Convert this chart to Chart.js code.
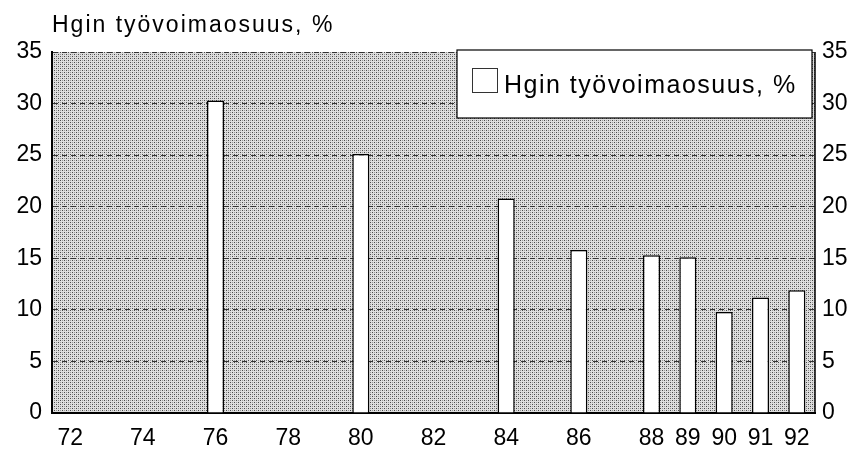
<!DOCTYPE html>
<html>
<head>
<meta charset="utf-8">
<script src="https://cdn.jsdelivr.net/npm/chart.js@4"></script>
<style>
  html, body { margin: 0; padding: 0; background: #fff; }
  #wrap { width: 856px; height: 453px; }
</style>
</head>
<body>
<div id="wrap"><canvas id="osuusChart" width="856" height="453"></canvas></div>
<script>
// Data
const vuodet = ['72','73','74','75','76','77','78','79','80','81','82','83','84','85','86','87','88','89','90','91','92'];
const osuus = [null, null, null, null, 30.3, null, null, null, 25.1, null, null, null, 20.8, null, 15.8, null, 15.3, 15.1, 9.8, 11.2, 11.9];
const naytettavat = ['72','74','76','78','80','82','84','86','88','89','90','91','92'];
const otsikko = 'Hgin työvoimaosuus, %';
const sarjanNimi = 'Hgin työvoimaosuus, %';

const fontti = '"Liberation Sans", Arial, Helvetica, sans-serif';

// Rasteri taustalle
function teeKuvio() {
    const c = document.createElement('canvas');
    c.width = 4; c.height = 4;
    const g = c.getContext('2d');
    g.fillStyle = '#dedede';
    g.fillRect(0, 0, 4, 4);
    g.fillStyle = '#4a4a4a';
    g.fillRect(0, 0, 1, 1);
    g.fillRect(2, 2, 1, 1);
    g.fillStyle = '#999';
    g.fillRect(2, 0, 1, 1);
    g.fillRect(0, 2, 1, 1);
    return c;
}

const taustaPlugin = {
    id: 'tausta',
    beforeDraw(chart) {
        const { ctx, chartArea: a } = chart;
        ctx.save();
        ctx.fillStyle = ctx.createPattern(teeKuvio(), 'repeat');
        ctx.fillRect(a.left, a.top, a.right - a.left, a.bottom - a.top);
        ctx.restore();
    },
    afterDraw(chart) {
        const { ctx, chartArea: a } = chart;
        ctx.save();
        // otsikko
        ctx.fillStyle = '#000';
        ctx.font = '23px ' + fontti;
        ctx.letterSpacing = '2px';
        ctx.textBaseline = 'alphabetic';
        ctx.fillText(otsikko, a.left, 32);
        // oikea reuna
        ctx.letterSpacing = '0px';
        ctx.strokeStyle = '#000';
        ctx.lineWidth = 1.5;
        ctx.beginPath();
        ctx.moveTo(a.right, a.top);
        ctx.lineTo(a.right, a.bottom);
        ctx.stroke();
        // selite
        const x0 = 457, y0 = 50, w = 355, h = 68;
        ctx.fillStyle = '#fff';
        ctx.fillRect(x0, y0, w, h);
        ctx.lineWidth = 1.2;
        ctx.strokeRect(x0, y0, w, h);
        ctx.strokeStyle = '#333';
        ctx.lineWidth = 1;
        ctx.strokeRect(472.5, 68.5, 25, 24);
        ctx.fillStyle = '#000';
        ctx.font = '25px ' + fontti;
        ctx.letterSpacing = '1.5px';
        ctx.textBaseline = 'alphabetic';
        ctx.fillText(sarjanNimi, 504, 93);
        ctx.restore();
    }
};

new Chart(document.getElementById('osuusChart'), {
    type: 'bar',
    data: {
        labels: vuodet,
        datasets: [{
            label: sarjanNimi,
            data: osuus,
            backgroundColor: '#fff',
            borderColor: '#000',
            borderWidth: 1.5,
            borderSkipped: 'bottom',
            barPercentage: 0.47,
            categoryPercentage: 1.0
        }]
    },
    options: {
        responsive: false,
        animation: false,
        layout: { padding: { top: 52, left: 0, right: 0, bottom: 0 } },
        plugins: { legend: { display: false }, tooltip: { enabled: false }, title: { display: false } },
        scales: {
            x: {
                offset: true,
                grid: { display: false },
                border: { display: true, color: '#000', width: 2 },
                ticks: {
                    autoSkip: false, maxRotation: 0, color: '#000', padding: 4,
                    font: { family: fontti, size: 23 },
                    callback: function (v) {
                        const l = this.getLabelForValue(v);
                        return naytettavat.includes(l) ? l : '';
                    }
                },
                afterFit: s => { s.height = 40; }
            },
            y: {
                min: 0, max: 35,
                ticks: { stepSize: 5, color: '#000', padding: 10, font: { family: fontti, size: 23 } },
                grid: { color: '#333', lineWidth: 1, drawTicks: false },
                border: { display: true, color: '#000', width: 2, dash: [5, 4] },
                afterFit: s => { s.width = 52; }
            },
            y2: {
                position: 'right',
                min: 0, max: 35,
                ticks: { stepSize: 5, color: '#000', padding: 7, font: { family: fontti, size: 23 } },
                grid: { display: false, drawTicks: false },
                border: { display: false },
                afterFit: s => { s.width = 41; }
            }
        }
    },
    plugins: [taustaPlugin]
});
</script>
</body>
</html>
